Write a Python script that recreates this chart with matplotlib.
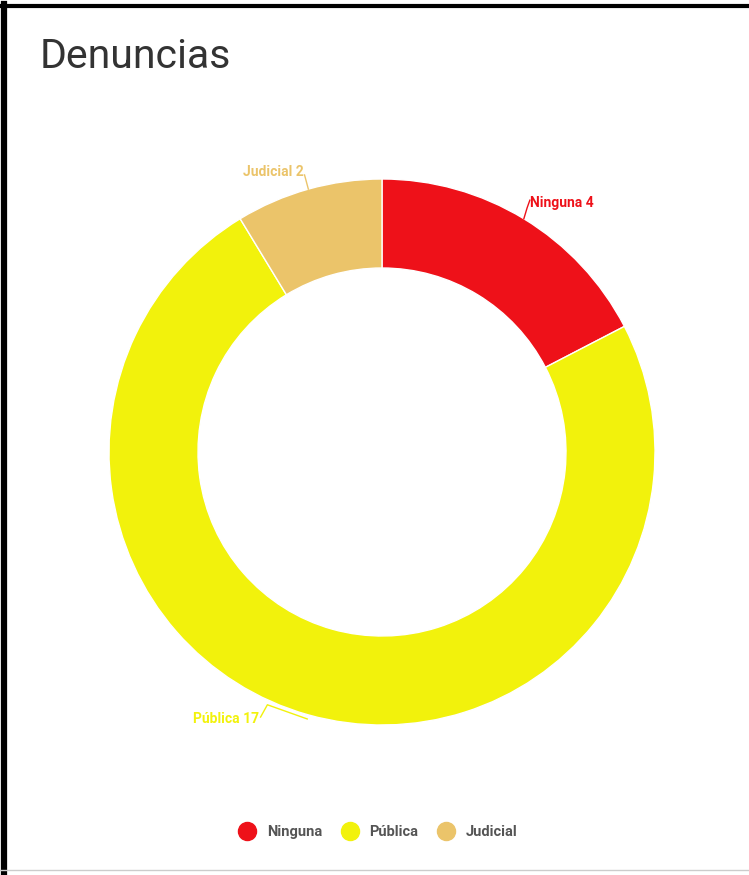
import numpy as np
import matplotlib
matplotlib.use("Agg")
import matplotlib.pyplot as plt
from matplotlib.lines import Line2D

plt.rcParams["font.family"] = ["Roboto", "DejaVu Sans"]

categories = ["Ninguna", "Pública", "Judicial"]
values = [4, 17, 2]
colors = ["#EE1119", "#F2F20C", "#EBC46A"]

W, H = 749, 875
fig = plt.figure(figsize=(W / 100, H / 100), dpi=100)
fig.patch.set_facecolor("white")

# pie axes: centre (382, 452) px, outer radius 273 px
cx, cy, r = 382, 452, 273
half = 320
ax = fig.add_axes([(cx - half) / W, (H - cy - half) / H, 2 * half / W, 2 * half / H])

wedges, _ = ax.pie(values, colors=colors, startangle=90, counterclock=False, radius=1,
                   wedgeprops=dict(width=0.326, edgecolor="white", linewidth=1))
ax.set_xlim(-half / r, half / r)
ax.set_ylim(-half / r, half / r)
ax.axis("off")

# leader lines (offsets from the wedge's outer edge) and label placement
leaders = {"Ninguna": ([(0, 0), (0.012, 0.04), (0.022, 0.068)], (0.024, 0.058), "left"),
           "Judicial": ([(0, 0), (-0.008, 0.03), (-0.014, 0.052)], (-0.018, 0.062), "right"),
           "Pública": ([(-0.004, -0.015), (-0.15, 0.037), (-0.175, -0.008)], (-0.182, -0.015), "right")}
for w, cat, val, col in zip(wedges, categories, values, colors):
    mid = np.deg2rad((w.theta1 + w.theta2) / 2)
    x0, y0 = np.cos(mid), np.sin(mid)
    pts, (tx, ty), ha = leaders[cat]
    ax.plot([x0 + p[0] for p in pts], [y0 + p[1] for p in pts], color=col, lw=1)
    ax.text(x0 + tx, y0 + ty, f"{cat} {val}", ha=ha, va="center", fontsize=10,
            color=col, fontweight="bold")

fig.text(40 / W, 1 - 57 / H, "Denuncias", fontsize=29.5, color="#333333",
         ha="left", va="center")

handles = [Line2D([], [], marker="o", linestyle="", markersize=13,
                  markerfacecolor=c, markeredgecolor=c) for c in colors]
fig.legend(handles, categories, loc="center", ncol=3,
           bbox_to_anchor=(375 / W, 1 - 832 / H), frameon=False,
           prop=dict(size=10.5, weight="bold"), handletextpad=0.35, columnspacing=0.9,
           labelcolor="#555555")

# frame of the screenshot
fig.add_artist(Line2D([0, 1], [1 - 5.5 / H, 1 - 5.5 / H], color="black", lw=3))
fig.add_artist(Line2D([4 / W, 4 / W], [0, 1 - 4 / H], color="black", lw=4.5))
fig.add_artist(Line2D([0, 1], [1 - 870 / H, 1 - 870 / H], color="#cccccc", lw=1))

fig.savefig("out.png", dpi=100, facecolor="white")
